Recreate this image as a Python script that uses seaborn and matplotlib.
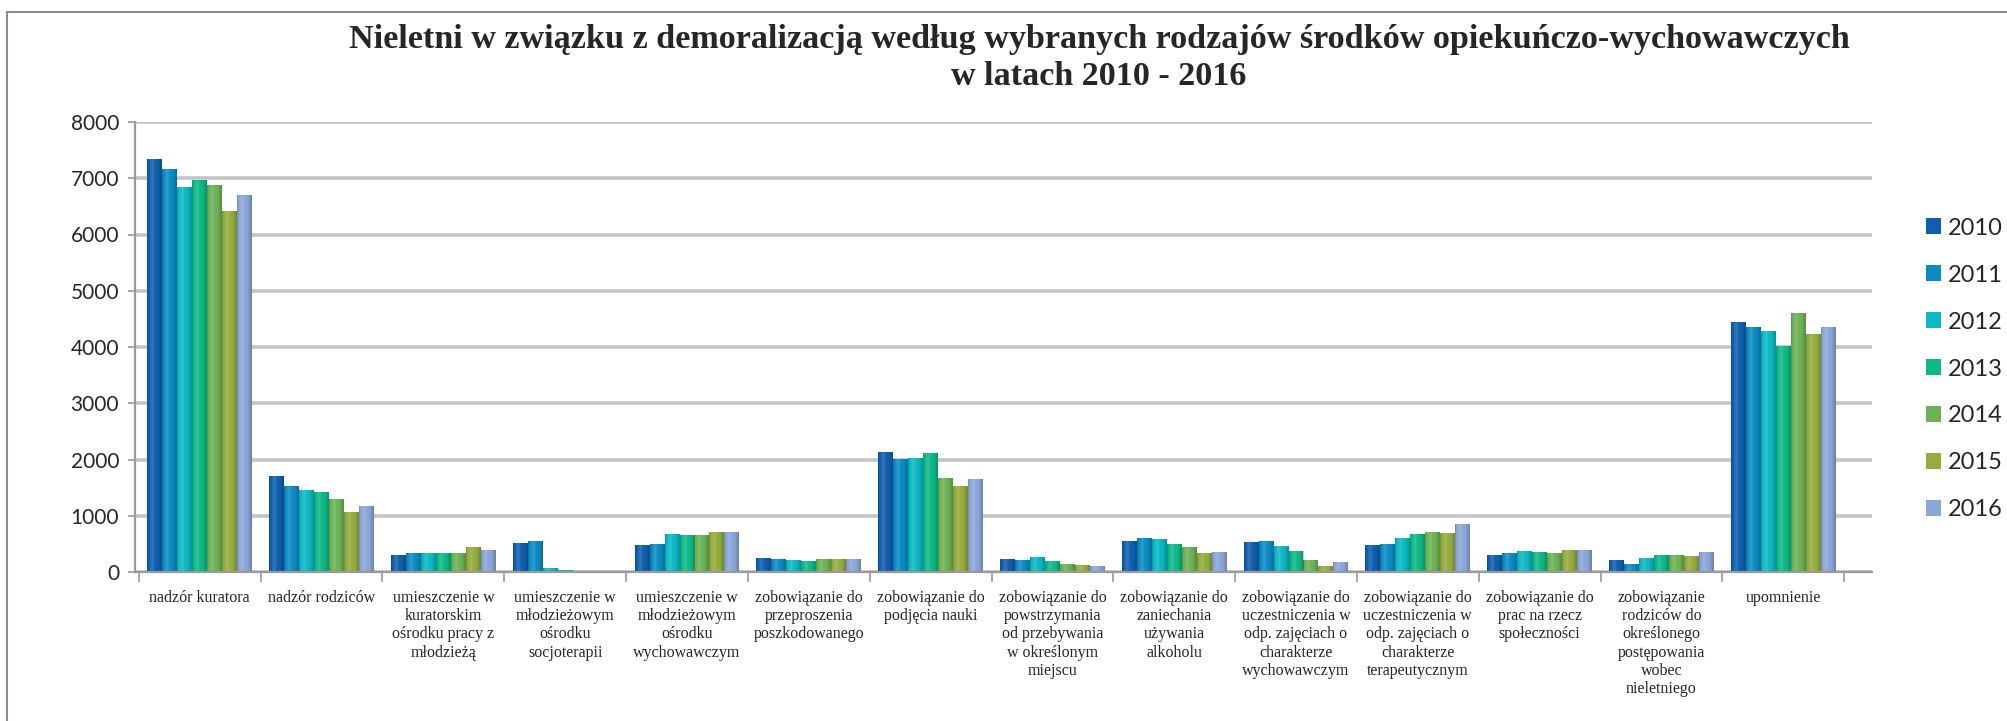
import numpy as np
import pandas as pd
import matplotlib
matplotlib.use("Agg")
import matplotlib.pyplot as plt
from matplotlib.patches import Rectangle
import seaborn as sns

# dane
categories = [
    "nadzór kuratora",
    "nadzór rodziców",
    "umieszczenie w\nkuratorskim\nośrodku pracy z\nmłodzieżą",
    "umieszczenie w\nmłodzieżowym\nośrodku\nsocjoterapii",
    "umieszczenie w\nmłodzieżowym\nośrodku\nwychowawczym",
    "zobowiązanie do\nprzeproszenia\nposzkodowanego",
    "zobowiązanie do\npodjęcia nauki",
    "zobowiązanie do\npowstrzymania\nod przebywania\nw określonym\nmiejscu",
    "zobowiązanie do\nzaniechania\nużywania\nalkoholu",
    "zobowiązanie do\nuczestniczenia w\nodp. zajęciach o\ncharakterze\nwychowawczym",
    "zobowiązanie do\nuczestniczenia w\nodp. zajęciach o\ncharakterze\nterapeutycznym",
    "zobowiązanie do\nprac na rzecz\nspołeczności",
    "zobowiązanie\nrodziców do\nokreślonego\npostępowania\nwobec\nnieletniego",
    "upomnienie",
]
years = ["2010", "2011", "2012", "2013", "2014", "2015", "2016"]

v2010 = [7350, 1700, 310, 520, 480, 250, 2130, 230, 560, 530, 480, 300, 220, 4440]
v2011 = [7160, 1530, 340, 550, 500, 230, 2010, 210, 610, 560, 500, 330, 150, 4350]
v2012 = [6850, 1450, 340, 70, 670, 220, 2030, 270, 580, 470, 600, 370, 250, 4290]
v2013 = [6970, 1420, 330, 35, 660, 190, 2120, 190, 490, 370, 670, 360, 310, 4020]
v2014 = [6880, 1290, 340, 25, 650, 230, 1670, 150, 440, 220, 720, 340, 300, 4600]
v2015 = [6410, 1060, 440, 20, 710, 240, 1530, 130, 340, 100, 690, 400, 280, 4230]
v2016 = [6700, 1170, 390, 25, 720, 240, 1660, 100, 350, 180, 860, 385, 350, 4360]

colors = ["#0F5FAE", "#0A8BC3", "#0BB8C3", "#0EB886", "#6CB255", "#95AC3E", "#8AA5D8"]

series = [v2010, v2011, v2012, v2013, v2014, v2015, v2016]
df = pd.DataFrame({
    "kategoria": categories * len(years),
    "rok": [y for y in years for _ in categories],
    "liczba": [v for s in series for v in s],
})

sns.set_theme(style="white")
plt.rcParams["font.family"] = ["Lato", "DejaVu Sans"]

W, H = 2008, 721
fig = plt.figure(figsize=(W / 100, H / 100), dpi=100)
ax = fig.add_axes([135 / W, 1 - 572 / H, (1872 - 135) / W, (572 - 122) / H])

sns.barplot(
    data=df, x="kategoria", y="liczba", hue="rok",
    palette=colors, width=0.86, ax=ax, legend=True,
    edgecolor="none", linewidth=0, saturation=1,
)

# light cylinder shading on each bar
xs = np.linspace(0, 1, 64)
shade = np.zeros((1, 64, 4))
hl = np.clip(1 - np.abs(xs - 0.35) / 0.22, 0, 1)
dk = np.clip((xs - 0.7) / 0.3, 0, 1) + np.clip((0.08 - xs) / 0.08, 0, 1)
shade[0, :, :3] = np.where(hl[:, None] > 0, 1.0, 0.0)
shade[0, :, 3] = 0.16 * hl + 0.22 * dk
for p in list(ax.patches):
    h = p.get_height()
    if h <= 0 or not isinstance(p, Rectangle):
        continue
    x0, w = p.get_x(), p.get_width()
    im = ax.imshow(shade, extent=(x0, x0 + w, 0, h), aspect="auto", zorder=p.get_zorder() + 0.1,
                   interpolation="bilinear")
    im.set_clip_path(p)

ax.set_xlim(-0.532, 13.729)
ax.set_ylim(0, 8000)
ax.set_yticks(range(0, 8001, 1000))
ax.yaxis.grid(True, color="#C4C4C4", linewidth=2.6)
ax.set_axisbelow(True)
ax.set_xlabel("")
ax.set_ylabel("")

for s in ["top", "right"]:
    ax.spines[s].set_visible(False)
for s in ["left", "bottom"]:
    ax.spines[s].set_color("#9A9A9A")
    ax.spines[s].set_linewidth(1.6)

ax.tick_params(axis="y", labelsize=15, length=5, color="#9A9A9A", width=1.2, pad=6.5, left=True)
ax.tick_params(axis="x", length=0, pad=13)
for lab in ax.get_xticklabels():
    lab.set_family(["Liberation Serif", "DejaVu Serif"])
    lab.set_fontsize(11.5)
    lab.set_linespacing(1.18)
    lab.set_verticalalignment("top")
ax.set_xticks(np.arange(-0.5, 14, 1), minor=True)
ax.tick_params(axis="x", which="minor", length=7, color="#9A9A9A", width=1.2, bottom=True)

leg = ax.legend(
    loc="center left", bbox_to_anchor=(1926 / W, 1 - 369 / H), bbox_transform=fig.transFigure,
    frameon=False, fontsize=17, handlelength=0.64, handleheight=0.64,
    handletextpad=0.3, labelspacing=1.1, borderpad=0, borderaxespad=0, title=None,
)

fig.text(1099 / W, 1 - 58 / H,
         "Nieletni w związku z demoralizacją według wybranych rodzajów środków opiekuńczo-wychowawczych\nw latach 2010 - 2016",
         ha="center", va="center", fontsize=24.6, fontweight="bold",
         family=["Liberation Serif", "DejaVu Serif"], linespacing=1.22)

# outer chart frame
fig.patches.append(Rectangle((7 / W, -0.1), 1.2, 1 - 12 / H + 0.1, transform=fig.transFigure,
                             fill=False, edgecolor="#8C8C8C", linewidth=1.5))

fig.savefig("out.png", dpi=100)
